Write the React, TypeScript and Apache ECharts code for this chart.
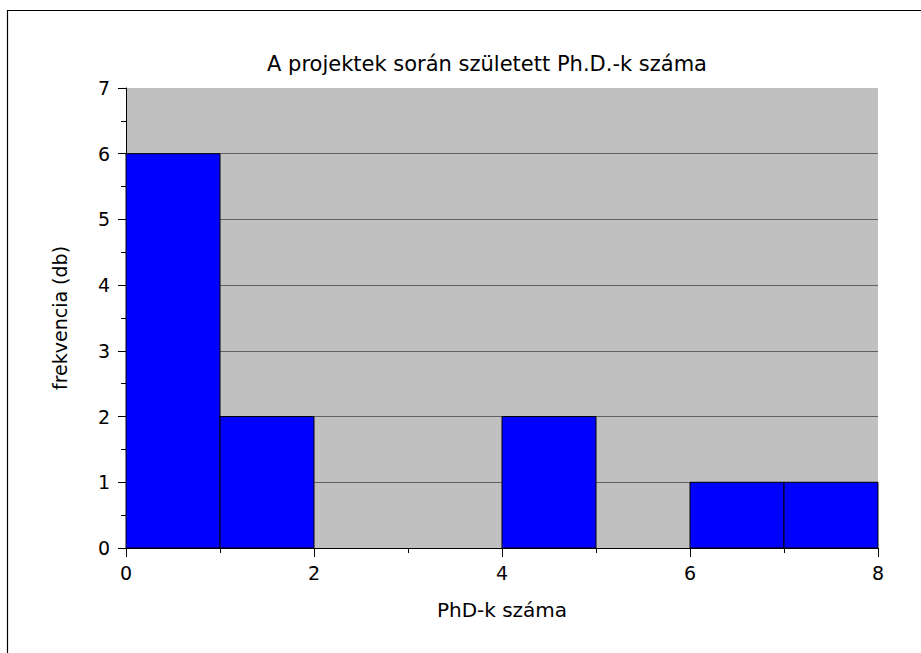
import React, { useEffect, useRef } from "react";
import * as echarts from "echarts";

const binStarts = [0, 1, 2, 3, 4, 5, 6, 7];
const binEnds = [1, 2, 3, 4, 5, 6, 7, 8];
const frequencies = [6, 2, 0, 0, 2, 0, 1, 1];
const titleText = "A projektek során született Ph.D.-k száma";
const xName = "PhD-k száma";
const yName = "frekvencia (db)";

const FONT = "'DejaVu Sans', 'Liberation Sans', Arial, sans-serif";

export default function App() {
  const ref = useRef<HTMLDivElement>(null);
  useEffect(() => {
    if (!ref.current) return;
    const chart = echarts.init(ref.current, undefined, { renderer: "svg" });
    const data = binStarts.map((s, i) => [s, binEnds[i], frequencies[i]]);
    chart.setOption({
      animation: false,
      backgroundColor: "#ffffff",
      textStyle: { fontFamily: FONT },
      title: {
        text: titleText,
        left: 482,
        top: 48,
        textAlign: "center",
        textStyle: { fontFamily: FONT, fontSize: 21, fontWeight: "normal", color: "#000" },
      },
      graphic: [
        {
          type: "rect",
          shape: { x: 7.5, y: 10.5, width: 1000, height: 1000 },
          style: { fill: "none", stroke: "#000", lineWidth: 1.2 },
          silent: true,
          z: 100,
        },
      ],
      grid: {
        left: 126,
        top: 88,
        width: 752,
        height: 460,
        show: true,
        backgroundColor: "#C0C0C0",
        borderWidth: 0,
      },
      xAxis: {
        type: "value",
        min: 0,
        max: 8,
        interval: 2,
        name: xName,
        nameLocation: "middle",
        nameGap: 52,
        nameTextStyle: { fontFamily: FONT, fontSize: 20, color: "#000" },
        axisLine: { show: true, lineStyle: { color: "#000", width: 1 } },
        axisTick: { show: true, length: 9, lineStyle: { color: "#000", width: 1 } },
        minorTick: { show: true, splitNumber: 2, length: 5, lineStyle: { color: "#000", width: 1 } },
        axisLabel: { fontFamily: FONT, fontSize: 19, color: "#000", margin: 15 },
        splitLine: { show: false },
      },
      yAxis: {
        type: "value",
        min: 0,
        max: 7,
        interval: 1,
        name: yName,
        nameLocation: "middle",
        nameGap: 57,
        nameTextStyle: { fontFamily: FONT, fontSize: 19, color: "#000" },
        axisLine: { show: true, lineStyle: { color: "#000", width: 1 } },
        axisTick: { show: true, length: 8, lineStyle: { color: "#000", width: 1 } },
        minorTick: { show: true, splitNumber: 2, length: 5, lineStyle: { color: "#000", width: 1 } },
        axisLabel: { fontFamily: FONT, fontSize: 19, color: "#000", margin: 16 },
        splitLine: {
          show: true,
          showMinLine: false,
          showMaxLine: false,
          lineStyle: { color: "#606060", width: 1 },
        },
      },
      series: [
        {
          type: "custom",
          encode: { x: [0, 1], y: 2 },
          data,
          renderItem: (params: any, api: any) => {
            const x0 = api.value(0);
            const x1 = api.value(1);
            const y = api.value(2);
            if (!y) return null;
            const p0 = api.coord([x0, y]);
            const p1 = api.coord([x1, 0]);
            return {
              type: "rect",
              shape: { x: p0[0], y: p0[1], width: p1[0] - p0[0], height: p1[1] - p0[1] },
              style: { fill: "#0000FF", stroke: "#000", lineWidth: 1 },
            };
          },
        },
      ],
    });
    return () => chart.dispose();
  }, []);
  return (
    <div
      ref={ref}
      style={{ position: "absolute", left: 0, top: 0, width: 921, height: 653 }}
    />
  );
}
